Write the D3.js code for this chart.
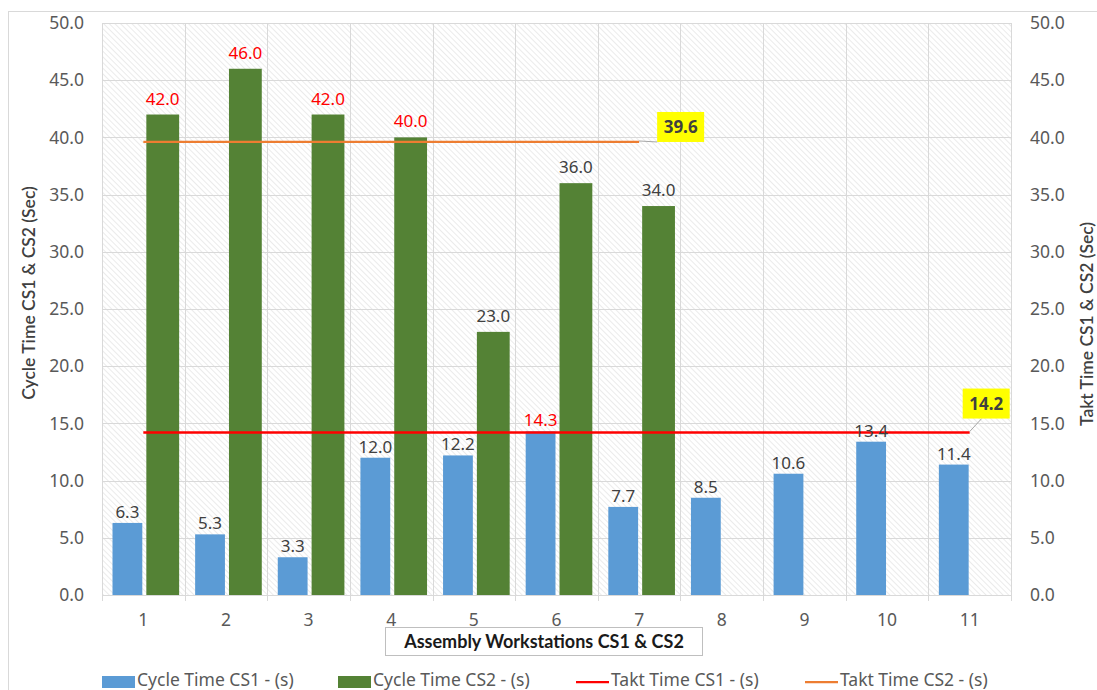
<!DOCTYPE html>
<html>
<head>
<meta charset="utf-8">
<script src="https://cdn.jsdelivr.net/npm/d3@7"></script>
<style>
  html, body { margin: 0; padding: 0; background: #ffffff; }
  svg { display: block; }
</style>
</head>
<body>
<svg id="chart" width="1097" height="690"></svg>
<script>
// Workstation cycle times and takt times for two configurations
const workstations = ["1", "2", "3", "4", "5", "6", "7", "8", "9", "10", "11"];
const cycleCS1 = [6.3, 5.3, 3.3, 12.0, 12.2, 14.3, 7.7, 8.5, 10.6, 13.4, 11.4];
const cycleCS2 = [42.0, 46.0, 42.0, 40.0, 23.0, 36.0, 34.0];
const taktCS1 = 14.2;
const taktCS2 = 39.6;
const yTicks = [0, 5, 10, 15, 20, 25, 30, 35, 40, 45, 50];
const seriesNames = ["Cycle Time CS1 - (s)", "Cycle Time CS2 - (s)", "Takt Time CS1 - (s)", "Takt Time CS2 - (s)"];

const C = { blue: "#5b9bd5", green: "#548235", red: "#ff0000", orange: "#ed7d31",
            grid: "#d9d9d9", text: "#595959", label: "#404040" };
const FONT = "'Noto Sans', 'Open Sans', sans-serif";
const TITLE_FONT = "Lato, 'Noto Sans', sans-serif";

const svg = d3.select("#chart");
const plot = { left: 102, right: 1011, top: 23, bottom: 595 };

const x0 = d3.scaleBand().domain(workstations).range([plot.left, plot.right]).padding(0);
const x1 = d3.scaleBand().domain(["CS1", "CS2"])
  .range([9.5, x0.bandwidth() - 6]).paddingInner(0.1);
const y = d3.scaleLinear().domain([0, 50]).range([plot.bottom, plot.top]);

// outer chart border
svg.append("rect").attr("x", 8.5).attr("y", 11.5).attr("width", 1100).attr("height", 700)
  .attr("fill", "#fff").attr("stroke", C.grid);

// hatched plot background
const defs = svg.append("defs");
const pat = defs.append("pattern").attr("id", "hatch").attr("patternUnits", "userSpaceOnUse")
  .attr("width", 4).attr("height", 4).attr("patternTransform", "rotate(-45)");
pat.append("rect").attr("width", 4).attr("height", 4).attr("fill", "#ffffff");
pat.append("line").attr("x1", 0).attr("y1", 0).attr("x2", 0).attr("y2", 4)
  .attr("stroke", "#e0e0e0").attr("stroke-width", 1.3);
svg.append("rect").attr("x", plot.left).attr("y", plot.top)
  .attr("width", plot.right - plot.left).attr("height", plot.bottom - plot.top)
  .attr("fill", "url(#hatch)");

// horizontal gridlines
svg.append("g").selectAll("line").data(yTicks).join("line")
  .attr("x1", plot.left).attr("x2", plot.right)
  .attr("y1", d => Math.round(y(d)) + 0.5).attr("y2", d => Math.round(y(d)) + 0.5)
  .attr("stroke", C.grid).attr("stroke-width", 1);

// vertical category gridlines with tick marks below the axis
const bounds = workstations.map(w => x0(w)).concat([plot.right]);
svg.append("g").selectAll("line").data(bounds).join("line")
  .attr("x1", d => Math.round(d) + 0.5).attr("x2", d => Math.round(d) + 0.5)
  .attr("y1", plot.top).attr("y2", plot.bottom + 6)
  .attr("stroke", C.grid).attr("stroke-width", 1);

// left and right value axes
const fmt = d3.format(".1f");
const leftAxis = svg.append("g").attr("transform", `translate(${plot.left},0)`)
  .call(d3.axisLeft(y).tickValues(yTicks).tickFormat(fmt).tickSize(0).tickPadding(18));
const rightAxis = svg.append("g").attr("transform", `translate(${plot.right},0)`)
  .call(d3.axisRight(y).tickValues(yTicks).tickFormat(fmt).tickSize(0).tickPadding(19));
[leftAxis, rightAxis].forEach(a => {
  a.select(".domain").remove();
  a.selectAll("text").attr("font-family", FONT).attr("font-size", 17.5).attr("fill", C.text);
});

// category axis
const xAxis = svg.append("g").attr("transform", `translate(0,${plot.bottom})`)
  .call(d3.axisBottom(x0).tickSize(0).tickPadding(19));
xAxis.select(".domain").attr("stroke", C.grid);
xAxis.selectAll("text").attr("font-family", FONT).attr("font-size", 17.5).attr("fill", C.text);

// bars
const groups = svg.append("g").selectAll("g").data(workstations).join("g")
  .attr("transform", d => `translate(${x0(d)},0)`);
groups.append("rect")
  .attr("x", x1("CS1") + 1).attr("width", x1.bandwidth() - 2)
  .attr("y", (d, i) => y(cycleCS1[i])).attr("height", (d, i) => y(0) - y(cycleCS1[i]))
  .attr("fill", C.blue);
groups.filter((d, i) => i < cycleCS2.length).append("rect")
  .attr("x", x1("CS2") - 0.5).attr("width", x1.bandwidth() + 1)
  .attr("y", (d, i) => y(cycleCS2[i])).attr("height", (d, i) => y(0) - y(cycleCS2[i]))
  .attr("fill", C.green);

// takt lines, drawn from the first to the last workstation of each configuration
const cx = w => x0(w) + x0.bandwidth() / 2;
const lineCS1 = workstations.map(w => [cx(w), y(taktCS1)]);
const lineCS2 = workstations.slice(0, cycleCS2.length).map(w => [cx(w), y(taktCS2)]);
const lineGen = d3.line();
svg.append("path").attr("d", lineGen(lineCS2)).attr("fill", "none")
  .attr("stroke", C.orange).attr("stroke-width", 2.25);
svg.append("path").attr("d", lineGen(lineCS1)).attr("fill", "none")
  .attr("stroke", C.red).attr("stroke-width", 2.5);

// bar value labels (values above takt highlighted in red)
const labels = svg.append("g").attr("font-family", FONT).attr("font-size", 17)
  .attr("text-anchor", "middle");
workstations.forEach((w, i) => {
  const v = cycleCS1[i];
  labels.append("text")
    .attr("x", x0(w) + x1("CS1") + x1.bandwidth() / 2).attr("y", y(v) - 5)
    .attr("fill", v > taktCS1 ? C.red : C.label).text(fmt(v));
});
cycleCS2.forEach((v, i) => {
  const w = workstations[i];
  labels.append("text")
    .attr("x", x0(w) + x1("CS2") + x1.bandwidth() / 2).attr("y", y(v) - 10)
    .attr("fill", v > taktCS2 ? C.red : C.label).text(fmt(v));
});

// takt value callouts with a short leader line to the end of each takt line
function callout(pt, value, dx, dy) {
  const [px, py] = pt;
  const bw = 47, bh = 30;
  const bx = px + dx, by = py + dy;
  const kx = Math.max(bx, px + 12), ky = by + bh;
  svg.append("path")
    .attr("d", `M${px},${py - 1} L${kx},${ky}`)
    .attr("fill", "none").attr("stroke", "#a6a6a6").attr("stroke-width", 1);
  svg.append("rect").attr("x", bx).attr("y", by).attr("width", bw).attr("height", bh)
    .attr("fill", "#ffff00");
  svg.append("text").attr("x", bx + bw / 2).attr("y", by + bh / 2 + 6)
    .attr("text-anchor", "middle").attr("font-family", FONT).attr("font-weight", "bold")
    .attr("font-size", 17).attr("fill", C.label).text(fmt(value));
}
callout(lineCS2[lineCS2.length - 1], taktCS2, 18, -30);
callout(lineCS1[lineCS1.length - 1], taktCS1, -7, -44);

// axis titles
svg.append("text").attr("transform", "translate(35,293) rotate(-90)")
  .attr("text-anchor", "middle").attr("font-family", TITLE_FONT).attr("font-size", 17.5)
  .attr("font-weight", 600).attr("fill", C.label).text("Cycle Time CS1 & CS2 (Sec)");
svg.append("text").attr("transform", "translate(1093,324) rotate(-90)")
  .attr("text-anchor", "middle").attr("font-family", TITLE_FONT).attr("font-size", 17.5)
  .attr("font-weight", 600).attr("fill", C.label).text("Takt Time CS1 & CS2 (Sec)");

// category axis title box
svg.append("rect").attr("x", 385.5).attr("y", 627.5).attr("width", 317).attr("height", 28)
  .attr("fill", "#fff").attr("stroke", "#bfbfbf");
svg.append("text").attr("x", 544).attr("y", 648).attr("text-anchor", "middle")
  .attr("font-family", TITLE_FONT).attr("font-weight", "bold").attr("font-size", 18)
  .attr("fill", "#1a1a1a").text("Assembly Workstations CS1 & CS2");

// legend
const legendX = [102, 338, 576, 805];
const legend = svg.append("g");
seriesNames.forEach((name, i) => {
  const gx = legendX[i];
  if (i < 2) {
    legend.append("rect").attr("x", gx).attr("y", 676).attr("width", 33).attr("height", 12)
      .attr("fill", i === 0 ? C.blue : C.green);
  } else {
    legend.append("line").attr("x1", gx).attr("x2", gx + 33).attr("y1", 682).attr("y2", 682)
      .attr("stroke", i === 2 ? C.red : C.orange).attr("stroke-width", 2.25);
  }
  legend.append("text").attr("x", gx + 35).attr("y", 686)
    .attr("font-family", FONT).attr("font-size", 17.5).attr("fill", C.text).text(name);
});
</script>
</body>
</html>
